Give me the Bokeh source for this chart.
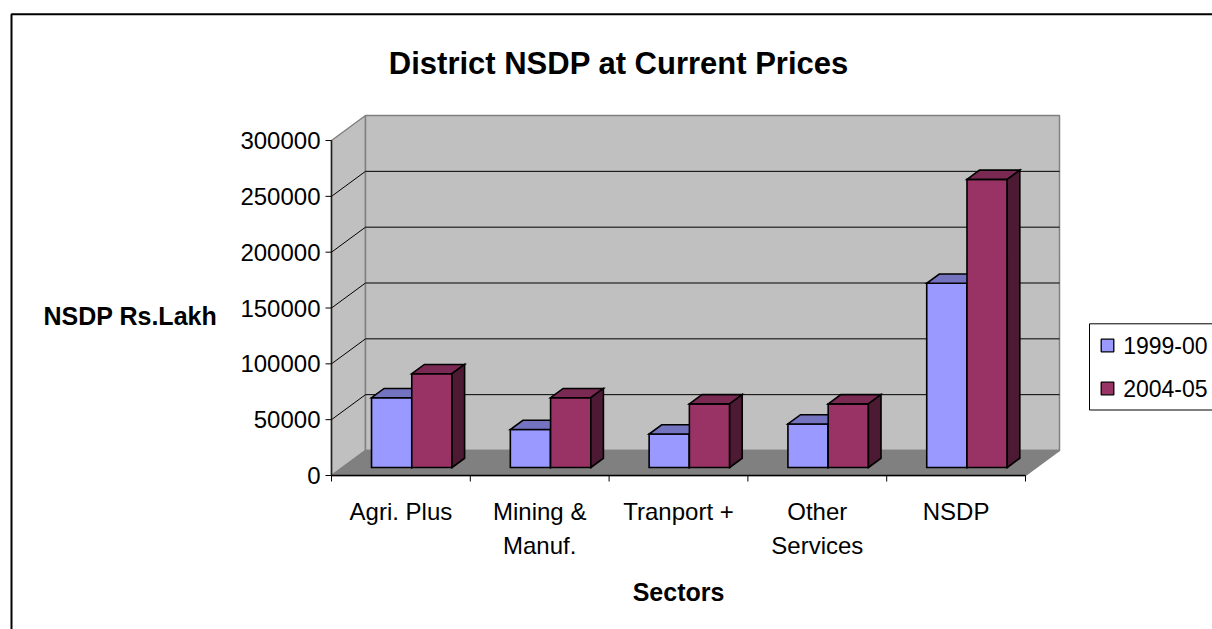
import numpy as np
from bokeh.plotting import figure
from bokeh.models import Range1d, ColumnDataSource
from bokeh.core.properties import value
from bokeh.embed import file_html
from bokeh.resources import INLINE

# ---------------- data ----------------
categories = ["Agri. Plus", "Mining &\nManuf.", "Tranport +", "Other\nServices", "NSDP"]
series_names = ["1999-00", "2004-05"]
values_1999 = [62500, 34000, 30000, 39000, 165000]
values_2004 = [84000, 62500, 57000, 57000, 258000]
y_ticks = [0, 50000, 100000, 150000, 200000, 250000, 300000]
y_max = 300000

title_text = "District NSDP at Current Prices"
x_title = "Sectors"
y_title = "NSDP Rs.Lakh"

# ---------------- layout / style ----------------
FONT = value("Liberation Sans")
W, H = 1212, 629
PAGE_OFF = 0
FX0 = 331.0            # page px of front-left corner of plot floor
FY0 = 475.0            # page px of value 0 on front axis
SX = 138.8             # px per category
SY = 55.83 / 50000.0   # px per value unit
DEPTH_PX = (34.0, 25.0)
BAR_F0 = 0.32          # front of bars (fraction of depth)
BAR_FD = 0.37          # bar depth (fraction of depth)
BAR_W = 0.29           # bar width (category units)

front_cols = ["#9999FF", "#993366"]
top_cols = ["#7373C0", "#7A2952"]
side_cols = ["#4D4D80", "#4D1A33"]


def px_x(px):
    return (px - FX0) / SX


def px_y(py):
    return (FY0 - py) / SY


DX = DEPTH_PX[0] / SX
DY = DEPTH_PX[1] / SY
ncat = len(categories)

p = figure(width=W, height=H, output_backend="svg", toolbar_location=None,
           x_axis_location=None, y_axis_location=None, min_border=0,
           x_range=Range1d(px_x(PAGE_OFF), px_x(PAGE_OFF + W)),
           y_range=Range1d(px_y(PAGE_OFF + H), px_y(PAGE_OFF)),
           background_fill_color="white", border_fill_color="white")
p.grid.visible = False
p.outline_line_color = None

# outer chart border
p.quad(left=[px_x(11)], right=[px_x(1240)], top=[px_y(13.7)], bottom=[px_y(660)],
       fill_color=None, line_color="black", line_width=2)

# ---------------- walls & floor ----------------
wall_line = "#808080"
# left wall
p.patch([0, 0, DX, DX], [0, y_max, y_max + DY, DY],
        fill_color="#C0C0C0", line_color=wall_line, line_width=1.5)
# back wall
p.patch([DX, DX, ncat + DX, ncat + DX], [DY, y_max + DY, y_max + DY, DY],
        fill_color="#C0C0C0", line_color=wall_line, line_width=1.5)
# floor
p.patch([0, ncat, ncat + DX, DX], [0, 0, DY, DY],
        fill_color="#808080", line_color=wall_line, line_width=1.5)

# gridlines
grid_t = y_ticks[1:-1]
p.segment(x0=[DX] * len(grid_t), y0=[t + DY for t in grid_t],
          x1=[ncat + DX] * len(grid_t), y1=[t + DY for t in grid_t],
          line_color="black", line_width=1)
p.segment(x0=[0] * len(grid_t), y0=grid_t,
          x1=[DX] * len(grid_t), y1=[t + DY for t in grid_t],
          line_color="black", line_width=1)

# axes lines
p.segment(x0=[0], y0=[0], x1=[0], y1=[y_max], line_color="#202020", line_width=1.5)
p.segment(x0=[0], y0=[0], x1=[ncat], y1=[0], line_color="black", line_width=1.5)
# y ticks
p.segment(x0=[px_x(FX0 - 6)] * len(y_ticks), y0=y_ticks,
          x1=[0] * len(y_ticks), y1=y_ticks, line_color="black", line_width=1)
# x ticks
xt = list(range(ncat + 1))
p.segment(x0=xt, y0=[0] * len(xt), x1=xt, y1=[-6 / SY] * len(xt),
          line_color="black", line_width=1)

# ---------------- 3D bars ----------------
b0 = BAR_F0 * DY
ox = BAR_F0 * DX
dxb = BAR_FD * DX
dyb = BAR_FD * DY
xs, ys, fills = [], [], []
for i in range(ncat):
    for s, vals in enumerate([values_1999, values_2004]):
        v = vals[i]
        L = i + 0.5 - BAR_W + s * BAR_W + ox
        R = L + BAR_W
        # front
        xs.append([L, R, R, L]); ys.append([b0, b0, b0 + v, b0 + v]); fills.append(front_cols[s])
        # top
        xs.append([L, R, R + dxb, L + dxb]); ys.append([b0 + v, b0 + v, b0 + v + dyb, b0 + v + dyb]); fills.append(top_cols[s])
        # side
        xs.append([R, R + dxb, R + dxb, R]); ys.append([b0, b0 + dyb, b0 + v + dyb, b0 + v]); fills.append(side_cols[s])
bars = ColumnDataSource(dict(xs=xs, ys=ys, fill=fills))
p.patches("xs", "ys", source=bars, fill_color="fill", line_color="black",
          line_width=1.6, line_join="miter")

# ---------------- texts ----------------
# y tick labels
p.text(x=[px_x(FX0 - 11)] * len(y_ticks), y=y_ticks, text=[str(t) for t in y_ticks],
       text_align="right", text_baseline="middle", text_font=FONT,
       text_font_size="24px", text_color="black")

# category labels (two lines)
line1 = [c.split("\n")[0] for c in categories]
line2 = [c.split("\n")[1] if "\n" in c else "" for c in categories]
cx = [i + 0.5 for i in range(ncat)]
p.text(x=cx, y=[px_y(510.7)] * ncat, text=line1, text_align="center",
       text_baseline="alphabetic", text_font=FONT, text_font_size="24px", text_color="black")
p.text(x=cx, y=[px_y(545)] * ncat, text=line2, text_align="center",
       text_baseline="alphabetic", text_font=FONT, text_font_size="24px", text_color="black")

# axis titles
p.text(x=[ncat / 2], y=[px_y(591.7)], text=[x_title], text_align="center",
       text_baseline="alphabetic", text_font=FONT, text_font_size="25px",
       text_font_style="bold", text_color="black")
p.text(x=[px_x(43)], y=[px_y(315)], text=[y_title], text_align="left",
       text_baseline="alphabetic", text_font=FONT, text_font_size="25px",
       text_font_style="bold", text_color="black")

# chart title
p.text(x=[px_x(618.3)], y=[px_y(63.3)], text=[title_text], text_align="center",
       text_baseline="alphabetic", text_font=FONT, text_font_size="31px",
       text_font_style="bold", text_color="black")

# ---------------- legend ----------------
p.quad(left=[px_x(1089)], right=[px_x(1300)], top=[px_y(323.3)], bottom=[px_y(409.5)],
       fill_color="white", line_color="black", line_width=1)
row_y = [px_y(345), px_y(388)]
sw_half = 6.3
p.quad(left=[px_x(1100.7)] * 2, right=[px_x(1113.3)] * 2,
       top=[y + sw_half / SY for y in row_y], bottom=[y - sw_half / SY for y in row_y],
       fill_color=front_cols, line_color="black", line_width=1.3)
p.text(x=[px_x(1122.7)] * 2, y=row_y, text=series_names, text_align="left",
       text_baseline="middle", text_font=FONT, text_font_size="23px", text_color="black")

open("out.html", "w").write(file_html(p, INLINE))
